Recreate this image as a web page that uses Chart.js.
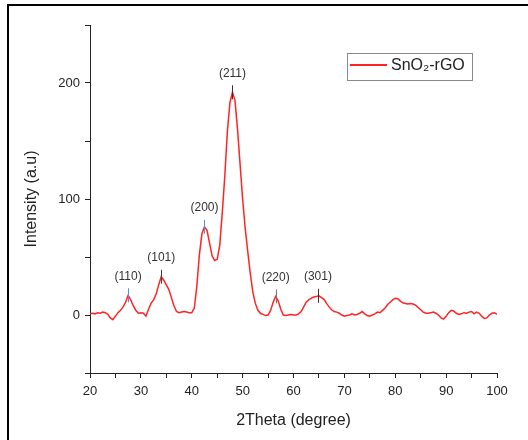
<!DOCTYPE html>
<html>
<head>
<meta charset="utf-8">
<script src="https://cdn.jsdelivr.net/npm/chart.js@4"></script>
<style>
  body { margin: 0; background: #fff; }
  #wrap { position: relative; width: 528px; height: 440px; }
  #frame { position: absolute; left: 7px; top: 4px; right: 0; bottom: 0;
           border-left: 2px solid #000; border-top: 2px solid #000; pointer-events: none; }
</style>
</head>
<body>
<div id="wrap">
  <canvas id="xrdChart" width="528" height="440"></canvas>
  <div id="frame"></div>
</div>
<script>
const twoTheta = [
  20, 20.5, 21, 21.5, 22, 22.5, 23, 23.5, 24, 24.5, 25, 25.5, 26, 26.5, 27, 27.5, 28, 28.5, 29, 29.5,
  30, 30.5, 31, 31.5, 32, 32.5, 33, 33.5, 34, 34.5, 35, 35.5, 36, 36.5, 37, 37.5, 38, 38.5, 39, 39.5,
  40, 40.5, 41, 41.5, 42, 42.5, 43, 43.5, 44, 44.5, 45, 45.5, 46, 46.5, 47, 47.5, 48, 48.5, 49, 49.5,
  50, 50.5, 51, 51.5, 52, 52.5, 53, 53.5, 54, 54.5, 55, 55.5, 56, 56.5, 57, 57.5, 58, 58.5, 59, 59.5,
  60, 60.5, 61, 61.5, 62, 62.5, 63, 63.5, 64, 64.5, 65, 65.5, 66, 66.5, 67, 67.5, 68, 68.5, 69, 69.5,
  70, 70.5, 71, 71.5, 72, 72.5, 73, 73.5, 74, 74.5, 75, 75.5, 76, 76.5, 77, 77.5, 78, 78.5, 79, 79.5,
  80, 80.5, 81, 81.5, 82, 82.5, 83, 83.5, 84, 84.5, 85, 85.5, 86, 86.5, 87, 87.5, 88, 88.5, 89, 89.5,
  90, 90.5, 91, 91.5, 92, 92.5, 93, 93.5, 94, 94.5, 95, 95.5, 96, 96.5, 97, 97.5, 98, 98.5, 99, 99.5,
  100
];
const intensity = [
  1, 1.5, 1, 2, 1.5, 2.5, 2, 0.5, -2.5, -4, -1, 2, 4, 7, 11, 17, 13, 8, 4, 1.5,
  2, 1.5, -1, 5, 10, 13, 18, 26, 33, 30, 26, 22, 15, 8, 3, 2, 2.5, 3, 2.5, 2,
  2, 6, 25, 52, 70, 76, 73, 62, 51, 47, 48, 60, 88, 120, 158, 183, 192, 185, 160, 130,
  100, 75, 55, 36, 20, 10, 4, 1.5, 0.5, -0.5, 0, 4, 11, 16, 12, 5, 0, -0.5, 0, 0.5,
  0, 0, 1, 3, 7, 11, 13, 14.5, 15.5, 16, 16.5, 15, 13.5, 10, 7, 4.5, 3, 2.5, 1.5, 0,
  -1, -0.5, 0, 1, 0, 0.5, 1.5, 3, 1, -0.5, -1, 0, 1, 2.5, 2, 4, 6, 9, 11, 13,
  14.5, 14, 12, 10.5, 10, 9.5, 10, 9.5, 8.5, 6.5, 4.5, 2.5, 1.5, 1.5, 2, 2.5, 1.5, 0, -2.5, -3.5,
  -1, 2, 4, 3.5, 1.5, 0.5, 1, 2, 1.5, 2.5, 3, 1, 2.5, 1.5, -1, -3, -2.5, 0, 1.5, 2,
  0.5
];

// indexed reflections
const peakLabels = ['(110)', '(101)', '(200)', '(211)', '(220)', '(301)'];
const peakPos = [27.5, 34, 42.5, 48, 56.5, 64.8];
const peakVal = [17, 33, 76, 192, 16, 16.5];
const peakColors = ['#5b8ed8', '#444', '#5b8ed8', '#333', '#777', '#333'];

const seriesName = 'SnO\u2082-rGO';
const lineColor = 'rgb(255, 35, 35)';
const fontFamily = '"Liberation Sans", Arial, sans-serif';

const points = twoTheta.map((t, i) => ({ x: t, y: intensity[i] }));

const peakPlugin = {
  id: 'peaks',
  afterDatasetsDraw(chart) {
    const ctx = chart.ctx;
    const xs = chart.scales.x;
    const ys = chart.scales.y;
    ctx.save();
    ctx.font = '12px ' + fontFamily;
    ctx.textAlign = 'center';
    ctx.textBaseline = 'middle';
    peakLabels.forEach((lbl, i) => {
      const px = xs.getPixelForValue(peakPos[i]);
      const py = ys.getPixelForValue(peakVal[i]);
      ctx.strokeStyle = peakColors[i];
      ctx.lineWidth = 1;
      ctx.beginPath();
      ctx.moveTo(Math.round(px) + 0.5, py - 7);
      ctx.lineTo(Math.round(px) + 0.5, py + 7);
      ctx.stroke();
      ctx.fillStyle = '#333';
      ctx.fillText(lbl, px, py - 19);
    });

    // legend box
    const bx = 347, by = 53, bw = 125, bh = 27;
    ctx.strokeStyle = '#888';
    ctx.lineWidth = 1;
    ctx.strokeRect(bx + 0.5, by + 0.5, bw, bh);
    ctx.strokeStyle = lineColor;
    ctx.lineWidth = 2;
    ctx.beginPath();
    ctx.moveTo(bx + 3, by + 12);
    ctx.lineTo(bx + 40, by + 12);
    ctx.stroke();
    ctx.fillStyle = '#222';
    ctx.textAlign = 'left';
    ctx.font = '16px ' + fontFamily;
    ctx.fillText(chart.data.datasets[0].label, bx + 44, by + 13);
    ctx.restore();
  }
};

new Chart(document.getElementById('xrdChart'), {
  type: 'line',
  data: {
    datasets: [{
      label: seriesName,
      data: points,
      borderColor: lineColor,
      borderWidth: 1.5,
      pointRadius: 0,
      tension: 0,
      fill: false
    }]
  },
  options: {
    responsive: false,
    animation: false,
    devicePixelRatio: 1,
    layout: { padding: { top: 25, right: 31, left: 0, bottom: 0 } },
    plugins: {
      legend: { display: false },
      tooltip: { enabled: false }
    },
    scales: {
      x: {
        type: 'linear',
        min: 20,
        max: 100,
        afterFit: s => { s.height = 67; },
        ticks: {
          stepSize: 5,
          autoSkip: false,
          maxRotation: 0,
          padding: 6,
          color: '#222',
          font: { family: fontFamily, size: 13 },
          callback: v => (v % 10 === 0 ? v : '')
        },
        grid: { drawOnChartArea: false, tickLength: 5, color: '#222' },
        border: { color: '#222', width: 1 },
        title: {
          display: true,
          text: '2Theta (degree)',
          color: '#222',
          font: { family: fontFamily, size: 16 },
          padding: { top: 0, bottom: 10 }
        }
      },
      y: {
        min: -50,
        max: 250,
        afterFit: s => { s.width = 90; },
        ticks: {
          stepSize: 50,
          padding: 5,
          color: '#222',
          font: { family: fontFamily, size: 13 },
          callback: v => (v % 100 === 0 ? v : '')
        },
        grid: { drawOnChartArea: false, tickLength: 5, color: '#222' },
        border: { color: '#222', width: 1 },
        title: {
          display: true,
          text: 'Intensity (a.u)',
          color: '#222',
          font: { family: fontFamily, size: 16 },
          padding: { top: 22, bottom: 0 }
        }
      }
    }
  },
  plugins: [peakPlugin]
});
</script>
</body>
</html>
